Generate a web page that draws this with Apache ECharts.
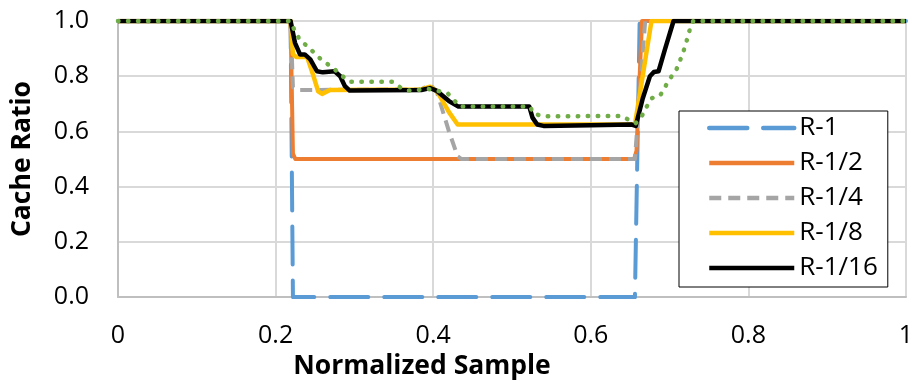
<!DOCTYPE html>
<html>
<head>
<meta charset="utf-8">
<script src="https://cdn.jsdelivr.net/npm/echarts@6/dist/echarts.min.js"></script>
<style>
  html, body { margin: 0; padding: 0; background: #fff; }
  #chart { width: 917px; height: 385px; }
</style>
</head>
<body>
<div id="chart"></div>
<script>
// Cache ratio versus normalized sample position, one curve per ratio setting.
const xTicks = [0, 0.2, 0.4, 0.6, 0.8, 1];
const yTicks = [0, 0.2, 0.4, 0.6, 0.8, 1.0];

const r1 = [[0, 1], [0.219, 1], [0.222, 0], [0.656, 0], [0.662, 1], [1, 1]];

const r1_2 = [[0, 1], [0.219, 1], [0.222, 0.52], [0.225, 0.5], [0.655, 0.5],
  [0.658, 0.53], [0.665, 1], [1, 1]];

const r1_4 = [[0, 1], [0.219, 1], [0.222, 0.76], [0.227, 0.75], [0.385, 0.752],
  [0.396, 0.77], [0.405, 0.74], [0.42, 0.6], [0.431, 0.51], [0.436, 0.5],
  [0.656, 0.5], [0.669, 1], [1, 1]];

const r1_8 = [[0, 1], [0.219, 1], [0.222, 0.88], [0.226, 0.87], [0.24, 0.87],
  [0.247, 0.81], [0.254, 0.745], [0.259, 0.736], [0.269, 0.75], [0.385, 0.752],
  [0.396, 0.762], [0.405, 0.745], [0.42, 0.67], [0.431, 0.625], [0.656, 0.625],
  [0.677, 1], [1, 1]];

const r1_16 = [[0, 1], [0.219, 1], [0.2246, 0.921], [0.231, 0.879], [0.237, 0.879],
  [0.244, 0.861], [0.2525, 0.818], [0.26, 0.814], [0.275, 0.818], [0.282, 0.8],
  [0.288, 0.764], [0.294, 0.748], [0.385, 0.75], [0.396, 0.757], [0.404, 0.748],
  [0.42, 0.71], [0.432, 0.69], [0.522, 0.69], [0.526, 0.65], [0.532, 0.625],
  [0.54, 0.62], [0.6, 0.622], [0.652, 0.625], [0.657, 0.62], [0.666, 0.72],
  [0.675, 0.8], [0.68, 0.815], [0.686, 0.818], [0.694, 0.896], [0.705, 1], [1, 1]];

const r1_32 = [[0, 1], [0.218, 1], [0.23, 0.935], [0.247, 0.89], [0.258, 0.86],
  [0.268, 0.84], [0.277, 0.82], [0.285, 0.8], [0.294, 0.78], [0.348, 0.78],
  [0.358, 0.76], [0.368, 0.748], [0.38, 0.75], [0.393, 0.754], [0.406, 0.747],
  [0.419, 0.736], [0.434, 0.69], [0.523, 0.69], [0.527, 0.664], [0.54, 0.655],
  [0.64, 0.656], [0.648, 0.642], [0.657, 0.63], [0.665, 0.657], [0.671, 0.69],
  [0.677, 0.72], [0.688, 0.73], [0.694, 0.76], [0.7, 0.79], [0.708, 0.82],
  [0.713, 0.855], [0.717, 0.885], [0.721, 0.92], [0.724, 0.956], [0.73, 1], [1, 1]];

const seriesNames = ['R-1', 'R-1/2', 'R-1/4', 'R-1/8', 'R-1/16', 'R-1/32'];
const seriesData = [r1, r1_2, r1_4, r1_8, r1_16, r1_32];
const legendNames = ['R-1', 'R-1/2', 'R-1/4', 'R-1/8', 'R-1/16'];

const styles = [
  { color: '#5b9bd5', width: 4, type: [38, 16], cap: 'round' },
  { color: '#ed7d31', width: 4, type: 'solid', cap: 'butt' },
  { color: '#a5a5a5', width: 4, type: [12, 7], cap: 'butt' },
  { color: '#ffc000', width: 4.5, type: 'solid', cap: 'butt' },
  { color: '#000000', width: 4.5, type: 'solid', cap: 'butt' },
  { color: '#70ad47', width: 4.5, type: [0.5, 9.5], cap: 'round' }
];

const font = '"Open Sans", Lato, sans-serif';

const chart = echarts.init(document.getElementById('chart'), null, { renderer: 'canvas' });

chart.setOption({
  animation: false,
  backgroundColor: '#ffffff',
  grid: { left: 118, right: 11, top: 21, bottom: 84, containLabel: false },
  xAxis: {
    type: 'value', min: xTicks[0], max: xTicks[xTicks.length - 1], interval: 0.2,
    name: 'Normalized Sample', nameLocation: 'middle', nameGap: 52,
    nameTextStyle: { fontFamily: font, fontWeight: 'bold', fontSize: 26.5, color: '#000',
      padding: [0, 180, 0, 0] },
    axisLine: { show: true, lineStyle: { color: '#bfbfbf', width: 2 } },
    axisTick: { show: false },
    axisLabel: { fontFamily: font, fontSize: 25, color: '#000', margin: 26,
      formatter: v => String(+v.toFixed(1)) },
    splitLine: { show: true, lineStyle: { color: '#d9d9d9', width: 2 } }
  },
  yAxis: {
    type: 'value', min: yTicks[0], max: yTicks[yTicks.length - 1], interval: 0.2,
    name: 'Cache Ratio', nameLocation: 'middle', nameGap: 82,
    nameTextStyle: { fontFamily: font, fontWeight: 'bold', fontSize: 26.5, color: '#000' },
    axisLine: { show: true, lineStyle: { color: '#bfbfbf', width: 2 } },
    axisTick: { show: false },
    axisLabel: { fontFamily: font, fontSize: 25, color: '#000', margin: 29,
      formatter: v => v.toFixed(1) },
    splitLine: { show: true, lineStyle: { color: '#d9d9d9', width: 2 } }
  },
  legend: {
    data: legendNames,
    orient: 'vertical',
    left: 679, top: 111,
    width: 216,
    padding: [4, 10, 6, 28],
    itemWidth: 85, itemHeight: 14, itemGap: 9,
    itemStyle: { opacity: 0 },
    lineStyle: { width: 4.5 },
    backgroundColor: '#ffffff',
    borderColor: '#000000', borderWidth: 1, borderRadius: 0,
    textStyle: { fontFamily: font, fontSize: 26, color: '#000' }
  },
  series: seriesNames.map((name, i) => ({
    name,
    type: 'line',
    data: seriesData[i],
    symbol: 'none',
    showSymbol: false,
    z: 2 + i,
    lineStyle: {
      color: styles[i].color, width: styles[i].width,
      type: styles[i].type, cap: styles[i].cap, join: 'round'
    },
    itemStyle: { color: styles[i].color }
  }))
});
</script>
</body>
</html>
